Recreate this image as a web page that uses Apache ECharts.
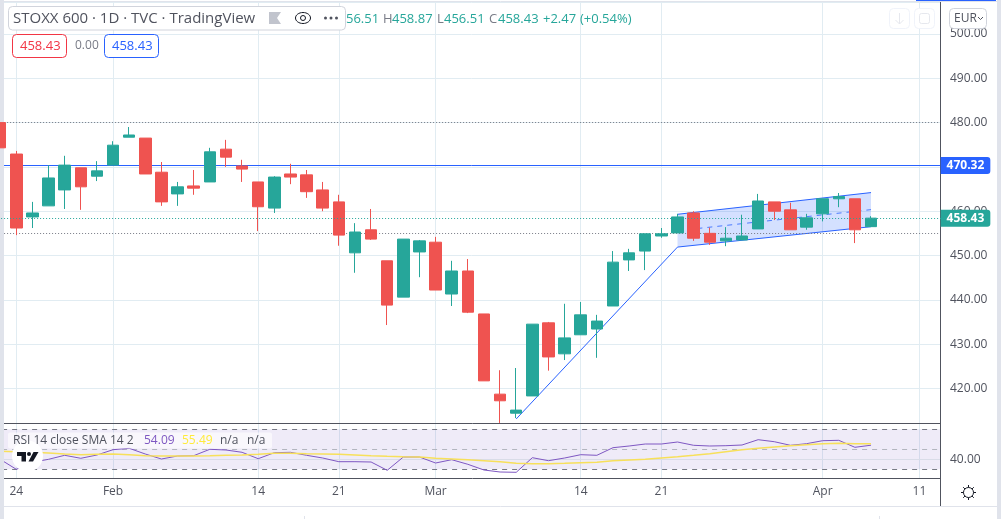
<!DOCTYPE html>
<html>
<head>
<meta charset="utf-8">
<style>html,body{margin:0;padding:0;background:#fff}#main{width:1001px;height:519px}</style>
<script src="https://cdn.jsdelivr.net/npm/echarts@6/dist/echarts.min.js"></script>
</head>
<body>
<div id="main"></div>
<script>
// trading days, first one is 21 Jan which is cut off by the left edge
var dayLabels = ['', '24', '', '', '', '', '', 'Feb', '', '', '', '', '', '', '', '', '14', '', '', '', '', '21', '', '', '', '', '', 'Mar', '', '', '', '', '', '', '', '', '14', '', '', '', '', '21', '', '', '', '', '', '', '', '', '', 'Apr', '', '', '', '', '', '11', ''];
var opens = [480, 472.9, 458.7, 461.2, 464.8, 469.8, 467.9, 470.4, 476.7, 476.5, 468.8, 463.9, 465.7, 466.6, 474, 470.2, 466.6, 460.7, 468.4, 468.2, 464.8, 462.1, 450.6, 455.8, 448.8, 440.6, 450.8, 453, 441.3, 446.5, 436.8, 418.7, 414.4, 418.3, 434.8, 427.8, 432.1, 433.4, 438.6, 449, 451, 454.4, 455.1, 459.6, 455, 453.3, 453.5, 456, 462.1, 460.3, 456.4, 459.4, 462.8, 462.8, 456.51];
var closes = [474.3, 456.2, 459.6, 467.5, 470.4, 465.5, 469.1, 474.9, 477.2, 468.4, 462.1, 465.5, 465.2, 473.4, 472.2, 469.5, 461, 467.7, 467.7, 464.4, 460.7, 454.6, 455.3, 453.7, 438.8, 453.7, 453.3, 442.2, 446.5, 437.2, 421.7, 417.2, 415.1, 434.5, 427.1, 431.4, 436.6, 435.2, 448.5, 450.6, 454.9, 454.9, 458.7, 453.9, 453, 453.9, 454.4, 462.3, 460, 455.8, 458.5, 462.8, 463.3, 455.8, 458.43];
var lows = [474.3, 454.6, 456.2, 461.2, 460.5, 460.3, 466.8, 470.4, 476.7, 468.4, 461.2, 461.2, 463.7, 466.6, 470, 466.6, 455.5, 459.6, 466.1, 463, 460, 452.2, 446.1, 453.5, 434.3, 440.6, 445.1, 442.2, 438.6, 437, 421.7, 412.2, 413.3, 418.3, 424, 426.4, 432.1, 426.9, 438.6, 446.5, 446.7, 454, 455.1, 453.3, 452.4, 452.1, 453.5, 456, 458, 455.8, 455.8, 457.7, 460.9, 452.8, 456.51];
var highs = [480, 473.6, 462.1, 470.4, 472.5, 469.8, 471.3, 475.8, 479, 476.5, 471.1, 466.6, 469.3, 474.3, 476.1, 471.6, 466.6, 467.9, 470.7, 469.3, 466.6, 463.7, 457.3, 460.5, 448.8, 453.7, 453.5, 454.2, 448.8, 449.2, 436.8, 424.1, 424.6, 434.5, 435, 439.1, 439.5, 436.6, 451, 451.5, 454.9, 456.2, 459.4, 460, 456.3, 456.4, 459.2, 463.9, 462.1, 461.9, 459.4, 462.8, 464.1, 462.8, 458.87];
var rsiValues = [40, 30, 37, 40, 44, 41, 44.3, 49.6, 51, 45.3, 40.3, 43.3, 43.6, 50, 49.3, 47, 40.6, 46.6, 47, 44, 41.3, 37.6, 37.6, 37.3, 29, 42.3, 42.3, 36.3, 39.6, 35, 29.3, 27.3, 27, 41.6, 38.6, 41.3, 44.6, 44, 51.6, 53.3, 55.3, 55.3, 57.3, 54, 53.3, 53.6, 54.3, 59.6, 57.6, 54, 55.6, 58.6, 59, 52, 54.09];
var rsiSma = [48, 47.6, 47, 46.3, 45.3, 44.6, 45, 45.3, 44.6, 43.6, 43.3, 43.3, 43.3, 43.6, 44, 44.3, 45, 46, 46, 45.6, 45.3, 45, 44.3, 43.6, 43, 42.6, 42.3, 41, 40.3, 39.6, 38.6, 37.6, 36, 35.6, 35.6, 36, 36.6, 37, 38.6, 39.3, 40, 41.3, 42.6, 44, 45.6, 47.6, 49.6, 51, 52.3, 53.6, 54.6, 55.6, 56, 55.6, 55.49];
var levelsDotted = [480, 455];
var supportLine = 470.32;
var lastPrice = 458.43;
// drawings: [category index, price]
var trendLine = [[32, 413.1], [42, 451.9]];
var channelUpper = [[42, 459.3], [54, 464.2]];
var channelLower = [[42, 451.9], [54, 456.5]];
var channelMiddle = [[42, 455.6], [54, 460.35]];

var FONT = '"Open Sans", sans-serif';
var GREY = '#50535e';
var BLUE = '#2962ff';
var GRIDLINE = '#e1ecf2';
var candleData = opens.map(function (o, i) { return [o, closes[i], lows[i], highs[i]]; });

function isLabelled(index) { return dayLabels[index] !== ''; }

function xAxisFor(gridIndex, showLabels) {
	return {
		type: 'category', gridIndex: gridIndex, data: dayLabels, boundaryGap: true, z: 0,
		axisLine: {show: false}, axisTick: {show: false},
		axisLabel: {show: showLabels, interval: 0, color: GREY, fontFamily: FONT, fontSize: 12, margin: 8},
		splitLine: {show: true, interval: isLabelled, alignWithLabel: true, lineStyle: {color: GRIDLINE, width: 1}}
	};
}

function renderDrawings(params, api) {
	function pt(p) { return api.coord(p); }
	var blue = {stroke: BLUE, lineWidth: 1, fill: null};
	function seg(line, style) {
		var a = pt(line[0]), b = pt(line[1]);
		return {type: 'line', shape: {x1: a[0], y1: a[1], x2: b[0], y2: b[1]}, style: style};
	}
	return {
		type: 'group',
		children: [
			{type: 'polygon', shape: {points: [pt(channelUpper[0]), pt(channelUpper[1]), pt(channelLower[1]), pt(channelLower[0])]}, style: {fill: 'rgba(41,98,255,0.2)'}},
			seg(channelUpper, blue),
			seg(channelLower, blue),
			seg(channelMiddle, {stroke: BLUE, lineWidth: 1, lineDash: [5, 5], opacity: 0.8}),
			seg(trendLine, blue)
		]
	};
}

function label(x, y, text, fill, font) {
	return {type: 'text', z: 10, style: {x: x, y: y, text: text, fill: fill, font: font || ('12px ' + FONT), verticalAlign: 'middle'}};
}
function box(x, y, w, h, stroke, r, fill) {
	return {type: 'rect', z: 9, shape: {x: x, y: y, width: w, height: h, r: r}, style: {fill: fill || '#fff', stroke: stroke, lineWidth: 1}};
}
function rule(x1, y1, x2, y2, color, z) {
	return {type: 'line', z: z || 3.5, shape: {x1: x1, y1: y1, x2: x2, y2: y2}, style: {stroke: color, lineWidth: 1}};
}
function fillRect(x, y, w, h, color, z) {
	return {type: 'rect', z: z || 2.9, shape: {x: x, y: y, width: w, height: h}, style: {fill: color}};
}

var sunSpikes = [0, 45, 90, 135, 180, 225, 270, 315].map(function (deg) {
	var a = deg * Math.PI / 180;
	return rule(968.5 + 5 * Math.cos(a), 492.5 + 5 * Math.sin(a), 968.5 + 7.5 * Math.cos(a), 492.5 + 7.5 * Math.sin(a), '#131722', 10);
});

var decor = [
	fillRect(941, 0, 60, 519, '#fff'),
	fillRect(0, 0, 4, 519, '#e0e3eb'),
	fillRect(997, 0, 4, 519, '#e0e3eb'),
	fillRect(916, 0, 80, 1, BLUE),
	rule(4, 1.5, 997, 1.5, '#e0e3eb'),
	rule(4, 423.5, 941, 423.5, GREY),
	rule(4, 478.5, 941, 478.5, GREY),
	rule(940.5, 2, 940.5, 506, GREY),
	rule(4, 506.5, 997, 506.5, '#e0e3eb'),
	rule(304.5, 516, 304.5, 519, '#e0e3eb'),
	rule(879.5, 516, 879.5, 519, '#e0e3eb'),

	// top legend
	box(8.5, 6.5, 337, 23.5, '#d1d4dc', 4),
	label(13, 18.5, 'STOXX 600 · 1D · TVC · TradingView', '#50535e', '15px ' + FONT),
	{type: 'polygon', z: 10, shape: {points: [[269, 12], [281, 12], [277, 18], [281, 24], [269, 24]]}, style: {fill: '#c1c4cd'}},
	{type: 'ellipse', z: 10, shape: {cx: 303, cy: 18, rx: 7.5, ry: 5.5}, style: {fill: 'none', stroke: '#131722', lineWidth: 1}},
	{type: 'circle', z: 10, shape: {cx: 303, cy: 18, r: 2.5}, style: {fill: 'none', stroke: '#131722', lineWidth: 1}},
	{type: 'circle', z: 10, shape: {cx: 325.5, cy: 18, r: 1.5}, style: {fill: '#50535e'}},
	{type: 'circle', z: 10, shape: {cx: 331, cy: 18, r: 1.5}, style: {fill: '#50535e'}},
	{type: 'circle', z: 10, shape: {cx: 336.5, cy: 18, r: 1.5}, style: {fill: '#50535e'}},
	label(346, 19.5, '56.51', '#26a69a', '13px ' + FONT),
	label(383, 19.5, 'H', '#787b86', '13px ' + FONT),
	label(392, 19.5, '458.87', '#26a69a', '13px ' + FONT),
	label(437, 19.5, 'L', '#787b86', '13px ' + FONT),
	label(444, 19.5, '456.51', '#26a69a', '13px ' + FONT),
	label(489, 19.5, 'C', '#787b86', '13px ' + FONT),
	label(498, 19.5, '458.43', '#26a69a', '13px ' + FONT),
	label(543, 19.5, '+2.47', '#26a69a', '13px ' + FONT),
	label(580, 19.5, '(+0.54%)', '#26a69a', '13px ' + FONT),

	box(12.5, 34.5, 54, 23, '#f23645', 4),
	label(20, 46.5, '458.43', '#f23645', '13px ' + FONT),
	label(75, 46, '0.00', '#787b86', '12px ' + FONT),
	box(104.5, 34.5, 54, 23, BLUE, 4),
	label(112, 46.5, '458.43', BLUE, '13px ' + FONT),

	// buttons over the price scale
	box(889.5, 8.5, 20, 20, '#f0f3fa', 4),
	rule(899.5, 13, 899.5, 24, '#e6e8ee', 10),
	rule(899.5, 24, 895.5, 20, '#e6e8ee', 10),
	rule(899.5, 24, 903.5, 20, '#e6e8ee', 10),
	box(914.5, 8.5, 20, 20, '#f0f3fa', 4),
	box(919.5, 13.5, 10, 10, '#e6e8ee', 2),
	box(949.5, 8.5, 37, 20, '#d1d4dc', 4),
	label(954, 18.5, 'EUR', '#50535e', '12px ' + FONT),
	rule(978, 17, 980.5, 19.5, '#50535e', 10),
	rule(983, 17, 980.5, 19.5, '#50535e', 10),

	// rsi legend
	{type: 'rect', z: 9, shape: {x: 8, y: 432.5, width: 264, height: 16, r: 2}, style: {fill: 'rgba(255,255,255,0.6)'}},
	label(13, 441, 'RSI 14 close SMA 14 2', '#50535e'),
	label(144, 441, '54.09', '#7e57c2'),
	label(182, 441, '55.49', '#ffeb3b'),
	label(220, 441, 'n/a', '#50535e'),
	label(247, 441, 'n/a', '#50535e'),

	// logo
	{type: 'circle', z: 9, shape: {cx: 27.5, cy: 456, r: 15.5}, style: {fill: '#fff'}},
	{type: 'rect', z: 10, shape: {x: 17, y: 452, width: 9, height: 4}, style: {fill: '#131722'}},
	{type: 'rect', z: 10, shape: {x: 21.5, y: 452, width: 4.5, height: 9.5}, style: {fill: '#131722'}},
	{type: 'circle', z: 10, shape: {cx: 29, cy: 454, r: 2}, style: {fill: '#131722'}},
	{type: 'polygon', z: 10, shape: {points: [[33.5, 452], [38.5, 452], [33, 461.5], [28.5, 461.5]]}, style: {fill: '#131722'}},

	// settings icon
	{type: 'circle', z: 10, shape: {cx: 968.5, cy: 492.5, r: 5}, style: {fill: 'none', stroke: '#131722', lineWidth: 1}}
].concat(sunSpikes);

var option = {
	animation: false,
	backgroundColor: '#fff',
	textStyle: {fontFamily: FONT},
	graphic: {elements: decor},
	grid: [
		{left: -7.9, width: 951.5, top: 2, height: 421.3, outerBoundsMode: 'none'},
		{left: -7.9, width: 951.5, top: 424, height: 54, outerBoundsMode: 'none'}
	],
	xAxis: [xAxisFor(0, false), xAxisFor(1, true)],
	yAxis: [
		{type: 'value', gridIndex: 0, min: 412.12, max: 507.22, splitNumber: 10, position: 'right', z: 0,
			axisLine: {show: false}, axisTick: {show: false}, axisLabel: {show: false},
			splitLine: {lineStyle: {color: GRIDLINE, width: 1}}},
		{type: 'value', gridIndex: 0, min: 412.12, max: 507.22, splitNumber: 10, position: 'right', z: 3,
			axisLine: {show: false}, axisTick: {show: false}, splitLine: {show: false},
			axisLabel: {showMinLabel: false, showMaxLabel: false, color: GREY, fontFamily: FONT, fontSize: 12, margin: 6.4,
				formatter: function (v) { return v.toFixed(2); }}},
		{type: 'value', gridIndex: 1, min: 21.3, max: 75.3, position: 'right', z: 3,
			axisLine: {show: false}, axisTick: {show: false}, splitLine: {show: false},
			axisLabel: {color: GREY, fontFamily: FONT, fontSize: 12, margin: 6.4,
				formatter: function (v) { return v === 40 ? '40.00' : ''; }}}
	],
	series: [
		{
			name: 'drawings', type: 'custom', xAxisIndex: 0, yAxisIndex: 0, z: 2,
			data: [[0, 460]], renderItem: renderDrawings, silent: true,
			markLine: {
				z: 2.5, silent: true, symbol: 'none', animation: false, label: {show: false},
				data: levelsDotted.map(function (v) {
					return {yAxis: v, lineStyle: {color: '#787b86', type: [1, 2], width: 1}};
				}).concat([{yAxis: supportLine, lineStyle: {color: BLUE, type: 'solid', width: 1}}])
			}
		},
		{
			name: 'STOXX 600', type: 'candlestick', xAxisIndex: 0, yAxisIndex: 0, z: 3, barWidth: 12,
			data: candleData,
			itemStyle: {color: '#26a69a', color0: '#ef5350', borderColor: '#26a69a', borderColor0: '#ef5350', borderWidth: 1},
			markLine: {
				z: 4, silent: true, symbol: 'none', animation: false,
				data: [
					{yAxis: lastPrice, lineStyle: {color: '#26a69a', type: [1, 2], width: 1},
						label: {show: true, position: 'end', distance: -3, formatter: lastPrice.toFixed(2), color: '#fff', fontFamily: FONT, fontWeight: 'bold', fontSize: 12, backgroundColor: '#26a69a', padding: [3, 6, 2, 6], borderRadius: [0, 3, 3, 0]}},
					{yAxis: supportLine, lineStyle: {color: 'rgba(0,0,0,0)', width: 1},
						label: {show: true, position: 'end', distance: -3, formatter: supportLine.toFixed(2), color: '#fff', fontFamily: FONT, fontWeight: 'bold', fontSize: 12, backgroundColor: BLUE, padding: [3, 6, 2, 6], borderRadius: [0, 3, 3, 0]}}
				]
			}
		},
		{
			name: 'RSI', type: 'line', xAxisIndex: 1, yAxisIndex: 2, z: 2.5, data: rsiValues,
			symbol: 'none', lineStyle: {color: '#7e57c2', width: 1},
			markArea: {
				z: 2, silent: true, animation: false, label: {show: false},
				itemStyle: {color: 'rgba(126,87,194,0.12)'},
				data: [[{yAxis: 70}, {yAxis: 30}]]
			},
			markLine: {
				z: 2.1, silent: true, symbol: 'none', animation: false, label: {show: false},
				data: [
					{yAxis: 70, lineStyle: {color: '#787b86', type: [5, 5], width: 1}},
					{yAxis: 50, lineStyle: {color: '#b2b5be', type: [5, 5], width: 1}},
					{yAxis: 40, lineStyle: {color: '#d9dce8', type: 'solid', width: 1}},
					{yAxis: 30, lineStyle: {color: '#787b86', type: [5, 5], width: 1}}
				]
			}
		},
		{
			name: 'SMA', type: 'line', xAxisIndex: 1, yAxisIndex: 2, z: 2.6, data: rsiSma,
			symbol: 'none', lineStyle: {color: '#f7e05a', width: 1.5}
		}
	]
};

var myChart = echarts.init(document.getElementById('main'));
myChart.setOption(option);
</script>
</body>
</html>
